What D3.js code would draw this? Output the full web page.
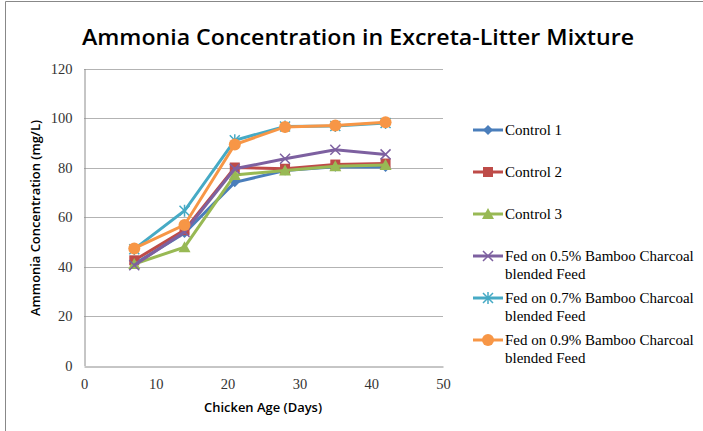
<!DOCTYPE html>
<html><head><meta charset="utf-8">
<script src="https://cdn.jsdelivr.net/npm/d3@7"></script>
<style>body{margin:0;background:#fff}svg{display:block}</style>
</head><body>
<script>
const days = [7, 14, 21, 28, 35, 42];
const seriesNames = ["Control 1", "Control 2", "Control 3",
  "Fed on 0.5% Bamboo Charcoal blended Feed",
  "Fed on 0.7% Bamboo Charcoal blended Feed",
  "Fed on 0.9% Bamboo Charcoal blended Feed"];
const control1 = [41, 53.5, 74, 78.8, 80.3, 80.2];
const control2 = [42.5, 54.7, 80, 79.5, 81.2, 81.6];
const control3 = [41, 47.8, 77, 78.8, 80.5, 81];
const fed05 = [40.5, 54, 79.5, 83.5, 87.2, 85.3];
const fed07 = [47, 62.5, 91, 96.6, 96.8, 98];
const fed09 = [47.3, 56.8, 89.3, 96.4, 97, 98.3];
const allValues = [control1, control2, control3, fed05, fed07, fed09];
const xTicks = [0, 10, 20, 30, 40, 50];
const yTicks = [0, 20, 40, 60, 80, 100, 120];
const colors = ["#4a7ebb", "#be4b48", "#98b954", "#7d60a0", "#46aac5", "#f79646"];
const shapes = ["diamond", "square", "triangle", "x", "star", "circle"];

const W = 703, H = 431;
const svg = d3.select("body").append("svg").attr("width", W).attr("height", H);
svg.append("line").attr("x1", 5.5).attr("x2", W).attr("y1", 1.5).attr("y2", 1.5).attr("stroke", "#888");
svg.append("line").attr("x1", 5.5).attr("x2", 5.5).attr("y1", 1.5).attr("y2", H).attr("stroke", "#888");

const x = d3.scaleLinear().domain([0, 50]).range([84, 443]);
const y = d3.scaleLinear().domain([0, 120]).range([365.5, 68.5]);

// gridlines
svg.append("g").selectAll("line").data(yTicks.filter(d => d > 0)).join("line")
  .attr("x1", x(0)).attr("x2", x(50)).attr("y1", d => Math.round(y(d)) + 0.5).attr("y2", d => Math.round(y(d)) + 0.5)
  .attr("stroke", "#b3b3b3").attr("stroke-width", 1);

// axes
const yAxis = svg.append("g").attr("transform", `translate(${x(0) + 0.5},0)`)
  .call(d3.axisLeft(y).tickValues(yTicks).tickSize(0).tickPadding(12));
const xAxis = svg.append("g").attr("transform", `translate(0,${Math.round(y(0)) + 0.5})`)
  .call(d3.axisBottom(x).tickValues(xTicks).tickSize(0).tickPadding(12));
[xAxis, yAxis].forEach(a => {
  a.select(".domain").attr("stroke", "#8c8c8c");
  a.selectAll("text").attr("font-family", "Liberation Serif, Times New Roman, serif")
    .attr("font-size", 14.5).attr("fill", "#333");
});

// title and axis labels
svg.append("text").attr("x", 358).attr("y", 45).attr("text-anchor", "middle")
  .attr("font-family", "Open Sans, sans-serif").attr("font-weight", 600).attr("font-size", 22)
  .attr("textLength", 552).attr("lengthAdjust", "spacingAndGlyphs").attr("fill", "#000")
  .text("Ammonia Concentration in Excreta-Litter Mixture");
svg.append("text").attr("transform", "translate(40,218) rotate(-90)").attr("text-anchor", "middle")
  .attr("font-family", "Open Sans, sans-serif").attr("font-weight", 600).attr("font-size", 13)
  .attr("textLength", 196).attr("lengthAdjust", "spacingAndGlyphs")
  .text("Ammonia Concentration (mg/L)");
svg.append("text").attr("x", 263).attr("y", 412).attr("text-anchor", "middle")
  .attr("font-family", "Open Sans, sans-serif").attr("font-weight", 600).attr("font-size", 13)
  .attr("textLength", 118).attr("lengthAdjust", "spacingAndGlyphs")
  .text("Chicken Age (Days)");

function drawMarker(g, shape, color, cx, cy) {
  if (shape === "diamond") {
    g.append("path").attr("d", `M${cx},${cy-5}L${cx+5},${cy}L${cx},${cy+5}L${cx-5},${cy}Z`).attr("fill", color);
  } else if (shape === "square") {
    g.append("rect").attr("x", cx-5).attr("y", cy-5).attr("width", 10).attr("height", 10).attr("fill", color);
  } else if (shape === "triangle") {
    g.append("path").attr("d", `M${cx},${cy-6}L${cx+6},${cy+5}L${cx-6},${cy+5}Z`).attr("fill", color);
  } else if (shape === "x") {
    g.append("path").attr("d", `M${cx-5},${cy-5}L${cx+5},${cy+5}M${cx-5},${cy+5}L${cx+5},${cy-5}`).attr("stroke", color).attr("stroke-width", 1.5);
  } else if (shape === "star") {
    g.append("path").attr("d", `M${cx-5},${cy-5}L${cx+5},${cy+5}M${cx-5},${cy+5}L${cx+5},${cy-5}M${cx},${cy-6}L${cx},${cy+6}`).attr("stroke", color).attr("stroke-width", 1.5);
  } else {
    g.append("circle").attr("cx", cx).attr("cy", cy).attr("r", 6).attr("fill", color);
  }
}

const line = d3.line().x((d, i) => x(days[i])).y(d => y(d));
allValues.forEach((vals, si) => {
  const g = svg.append("g");
  g.append("path").attr("d", line(vals)).attr("fill", "none").attr("stroke", colors[si]).attr("stroke-width", 3);
  vals.forEach((v, i) => drawMarker(g, shapes[si], colors[si], x(days[i]), y(v)));
});

// legend
const legendY = [130, 172, 214, 256, 298, 340];
seriesNames.forEach((name, si) => {
  const g = svg.append("g");
  const ly = legendY[si];
  g.append("line").attr("x1", 473).attr("x2", 503).attr("y1", ly).attr("y2", ly).attr("stroke", colors[si]).attr("stroke-width", 3);
  drawMarker(g, shapes[si], colors[si], 488, ly);
  const t = g.append("text").attr("font-family", "Liberation Serif, Times New Roman, serif").attr("font-size", 15).attr("fill", "#000");
  const idx = name.indexOf(" blended");
  const parts = idx > 0 ? [name.slice(0, idx), name.slice(idx + 1)] : [name];
  parts.forEach((p, k) => t.append("tspan").attr("x", 505).attr("y", ly + 5 + k * 17.5).text(p));
});
</script>
</body></html>
